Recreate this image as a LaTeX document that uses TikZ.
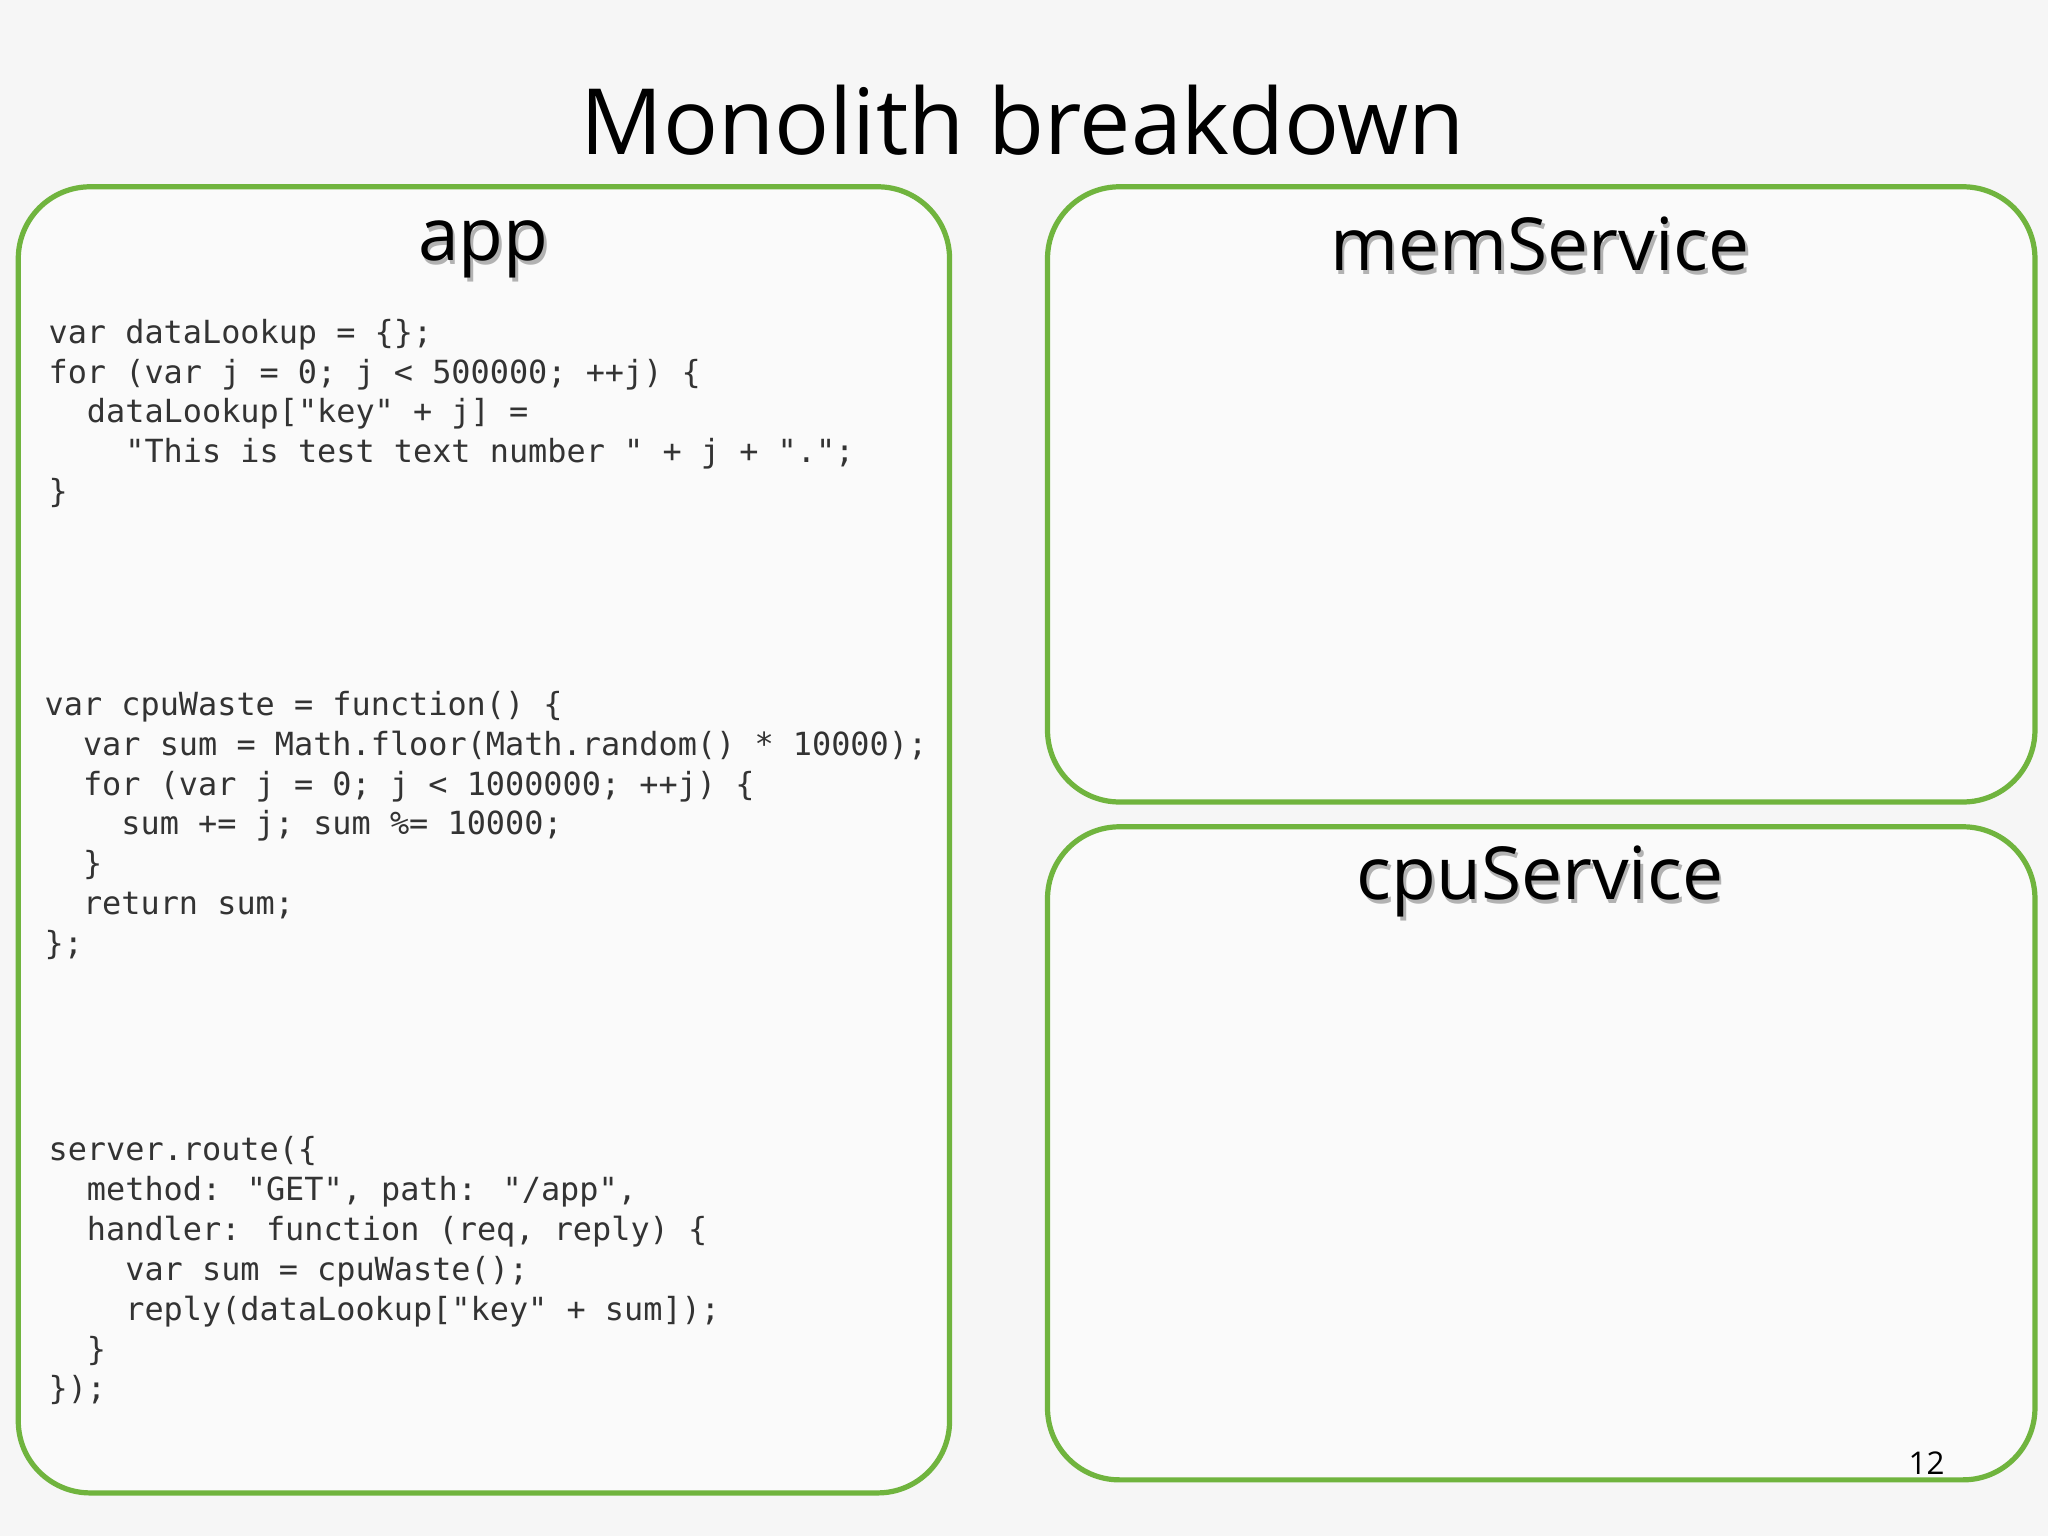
\documentclass[tikz,border=0pt]{standalone}
\usepackage{fontspec}
\setmainfont{Open Sans}
\newfontfamily\codefont{DejaVu Sans Mono}
\definecolor{boxgreen}{RGB}{112,180,62}
\definecolor{bg}{RGB}{246,246,246}
\begin{document}
\begin{tikzpicture}[x=1pt,y=-1pt,
  panel/.style={draw=boxgreen,line width=4pt,rounded corners=55pt,fill=white,fill opacity=0.5,draw opacity=1},
  head/.style={font=\fontsize{56}{62}\selectfont,anchor=center},
  code/.style={font=\codefont\fontsize{24.4}{30.5}\selectfont,anchor=north west,align=left,inner sep=0pt,text=black!80}]
\fill[bg] (0,0) rectangle (1568,1176);
\useasboundingbox (0,0) rectangle (1568,1176);
\node[font=\fontsize{70}{76}\selectfont] (title) at (783,92) {Monolith breakdown};
\draw[panel] (14,143) rectangle (727,1143);
\draw[panel] (802,143) rectangle (1558,614);
\draw[panel] (802,633) rectangle (1558,1133);
\foreach \n/\t/\x/\y in {happ/app/370/191,hmem/memService/1179/187,hcpu/cpuService/1179/675}{
  \node[head,text=black!30] at (\x+2,\y+3) {\t};
  \node[head] (\n) at (\x,\y) {\t};
}
\node[code] (c1) at (37,244) {var dataLookup = \{\};\\
for (var j = 0; j < 500000; ++j) \{\\
\ \ dataLookup["key" + j] =\\
\ \ \ \ "This is test text number " + j + ".";\\
\}};
\node[code] (c2) at (34,529) {var cpuWaste = function() \{\\
\ \ var sum = Math.floor(Math.random() * 10000);\\
\ \ for (var j = 0; j < 1000000; ++j) \{\\
\ \ \ \ sum += j; sum \%= 10000;\\
\ \ \}\\
\ \ return sum;\\
\};};
\node[code] (c3) at (37,870) {server.route(\{\\
\ \ method: "GET", path: "/app",\\
\ \ handler: function (req, reply) \{\\
\ \ \ \ var sum = cpuWaste();\\
\ \ \ \ reply(dataLookup["key" + sum]);\\
\ \ \}\\
\});};
\node[font=\fontsize{24}{28}\selectfont] (pg) at (1475,1120) {12};
\end{tikzpicture}
\end{document}
